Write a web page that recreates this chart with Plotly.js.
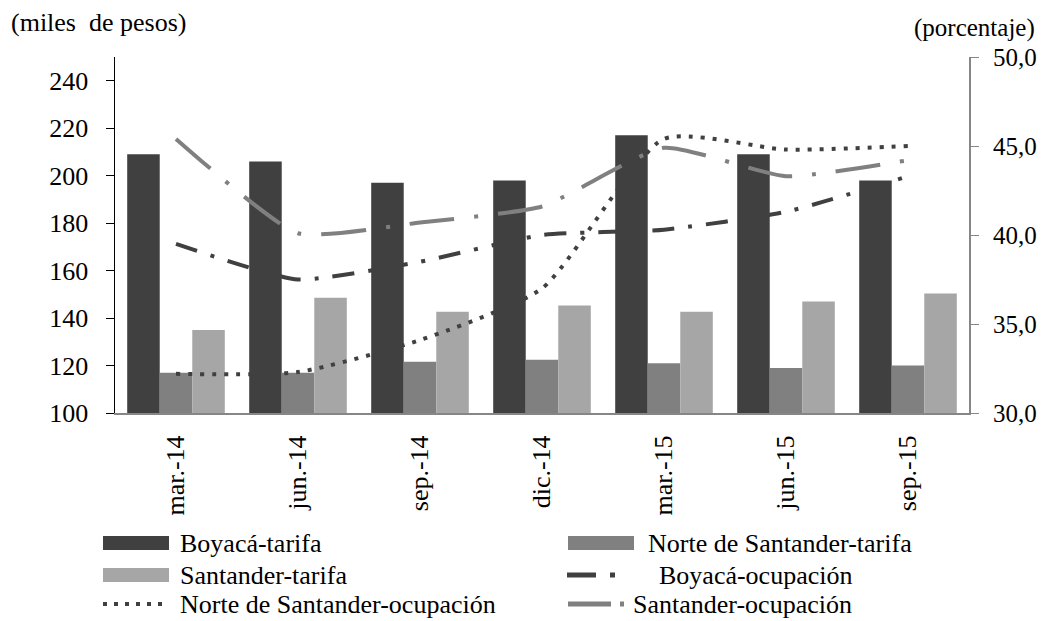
<!DOCTYPE html>
<html>
<head>
<meta charset="utf-8">
<script src="https://cdn.plot.ly/plotly-3.0.1.min.js"></script>
<style>html,body{margin:0;padding:0;background:#fff;}#chart{width:1042px;height:621px;}</style>
</head>
<body>
<div id="chart"></div>
<script>
const categories = ["mar.-14","jun.-14","sep.-14","dic.-14","mar.-15","jun.-15","sep.-15"];
const boyacaTarifa = [209, 206, 197, 198, 217, 209, 198];
const norteTarifa = [117, 117, 121.6, 122.4, 121, 119, 120];
const santanderTarifa = [135, 148.6, 142.7, 145.3, 142.7, 147, 150.3];
const boyacaOcup = [39.5, 37.5, 38.5, 40.0, 40.3, 41.3, 43.3];
const norteOcup = [32.2, 32.3, 34.1, 37.0, 45.4, 44.8, 45.0];
const santanderOcup = [45.4, 40.1, 40.7, 41.6, 44.9, 43.3, 44.2];
const leftTicks = [100,120,140,160,180,200,220,240];
const rightTicks = [30,35,40,45,50];
const rightTickText = ["30,0","35,0","40,0","45,0","50,0"];
const seriesNames = ["Boyacá-tarifa","Norte de Santander-tarifa","Santander-tarifa",
                     "Boyacá-ocupación","Norte de Santander-ocupación","Santander-ocupación"];

const FONT = "'Liberation Serif', 'Times New Roman', serif";
const W = 1042, H = 621, ML = 115, MR = 73, MT = 57, MB = 208;
const PW = W - ML - MR, PH = H - MT - MB;
const px = v => (v - ML) / PW;
const py = v => (H - MB - v) / PH;

const traces = [
  {type:"bar", name:seriesNames[0], x:categories, y:boyacaTarifa, marker:{color:"#404040"}},
  {type:"bar", name:seriesNames[1], x:categories, y:norteTarifa, marker:{color:"#808080"}},
  {type:"bar", name:seriesNames[2], x:categories, y:santanderTarifa, marker:{color:"#a6a6a6"}},
  {type:"scatter", mode:"lines", name:seriesNames[3], x:categories, y:boyacaOcup, yaxis:"y2",
   line:{color:"#404040", width:4, dash:"22px,14px,4px,14px", shape:"spline", smoothing:0.5}},
  {type:"scatter", mode:"lines", name:seriesNames[4], x:categories, y:norteOcup, yaxis:"y2",
   line:{color:"#404040", width:4, dash:"4px,8px", shape:"spline", smoothing:0.6}},
  {type:"scatter", mode:"lines", name:seriesNames[5], x:categories, y:santanderOcup, yaxis:"y2",
   line:{color:"#808080", width:4, dash:"45px,20px,4px,20px", shape:"spline", smoothing:0.5}}
];
traces.forEach(t => t.showlegend = false);

// custom legend (two columns, row-major), positions in pixels
const legendRows = [543, 575, 604];
const legendCols = [{sx:103, tx:178}, {sx:568, tx:646}];
const shapes = [];
const annotations = [
  {text:"(miles  de pesos)", xref:"paper", yref:"paper", x:px(9), y:py(22), xanchor:"left", yanchor:"middle",
   showarrow:false, font:{family:FONT, size:26}},
  {text:"(porcentaje)", xref:"paper", yref:"paper", x:px(1037), y:py(28), xanchor:"right", yanchor:"middle",
   showarrow:false, font:{family:FONT, size:25}}
];
traces.forEach((t, i) => {
  const row = Math.floor(i / 2), col = i % 2;
  const yc = legendRows[row];
  const c = legendCols[col];
  let tx = c.tx;
  if (t.type === "bar") {
    shapes.push({type:"rect", xref:"paper", yref:"paper", x0:px(c.sx), x1:px(c.sx + 66),
      y0:py(yc - 7), y1:py(yc + 7), fillcolor:t.marker.color, line:{width:0}});
  } else {
    let x0 = c.sx, x1 = c.sx + 64, dash = t.line.dash, w = 5;
    if (i === 3) { x0 = 567; x1 = 620; dash = "29px,14px,5px,100px"; tx = 657; }
    if (i === 4) { x0 = 103; x1 = 168; dash = "4px,7px"; w = 4; }
    if (i === 5) { x0 = 568; x1 = 628; dash = "43px,9px,4px,100px"; tx = 631; }
    shapes.push({type:"line", xref:"paper", yref:"paper", x0:px(x0), x1:px(x1), y0:py(yc), y1:py(yc),
      line:{color:t.line.color, width:w, dash:dash}});
  }
  annotations.push({text:t.name, xref:"paper", yref:"paper", x:px(tx), y:py(yc), xanchor:"left", yanchor:"middle",
    showarrow:false, font:{family:FONT, size:26, color:"#000"}});
});

const layout = {
  width:W, height:H,
  margin:{l:ML, r:MR, t:MT, b:MB, autoexpand:false},
  paper_bgcolor:"#fff", plot_bgcolor:"#fff",
  font:{family:FONT, size:26, color:"#000"},
  barmode:"group", bargap:0.2, bargroupgap:0,
  showlegend:false,
  xaxis:{type:"category", tickangle:-90, showline:true, linecolor:"#868686", linewidth:2,
         ticks:"", showgrid:false, zeroline:false, ticklabelstandoff:10, tickfont:{family:FONT, size:26}},
  yaxis:{range:[100,250], tickvals:leftTicks, showline:true, linecolor:"#000", linewidth:1.5,
         ticks:"outside", ticklen:8, tickcolor:"#000", showgrid:false, zeroline:false,
         ticklabelstandoff:12, tickfont:{family:FONT, size:26}},
  yaxis2:{range:[30,50], overlaying:"y", side:"right", tickvals:rightTicks, ticktext:rightTickText,
          showline:true, linecolor:"#868686", linewidth:2, ticks:"outside", ticklen:8, tickcolor:"#868686",
          showgrid:false, zeroline:false, ticklabelstandoff:9, tickfont:{family:FONT, size:25}},
  shapes:shapes,
  annotations:annotations
};

Plotly.newPlot("chart", traces, layout, {displayModeBar:false, staticPlot:true});
</script>
</body>
</html>
